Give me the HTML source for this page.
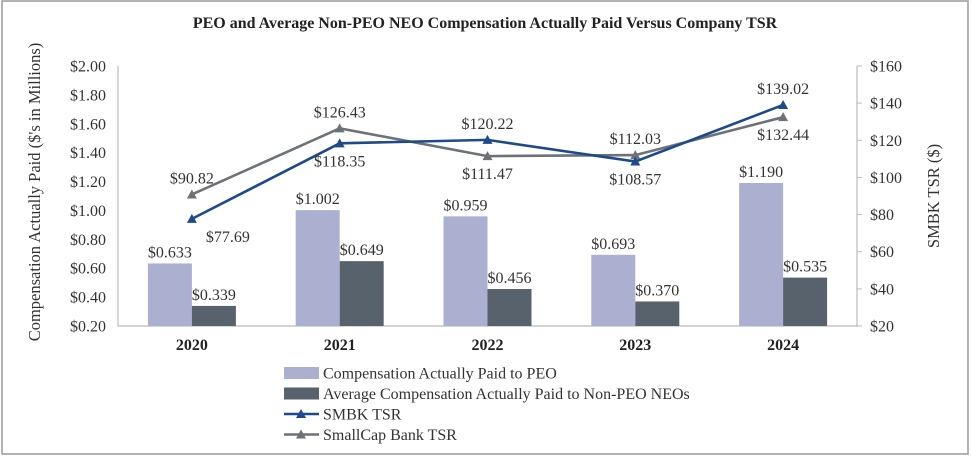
<!DOCTYPE html>
<html><head><meta charset="utf-8"><style>
body{margin:0;background:#fff;}
svg text{font-family:"Liberation Serif",serif;}
</style></head><body>
<svg id="c" width="971" height="456" viewBox="0 0 971 456">
<rect x="2" y="1" width="966" height="453" fill="#fff" stroke="#9a9a9a" stroke-width="1.5"/>
<text x="485" y="28" text-anchor="middle" font-size="16" font-weight="bold" fill="#222">PEO and Average Non-PEO NEO Compensation Actually Paid Versus Company TSR</text>
<g id="g"></g>
</svg>
<script>
const categories=["2020","2021","2022","2023","2024"];
const peoValues=[0.633,1.002,0.959,0.693,1.190];
const neoValues=[0.339,0.649,0.456,0.370,0.535];
const smbkTSR=[77.69,118.35,120.22,108.57,139.02];
const smallCapTSR=[90.82,126.43,111.47,112.03,132.44];
const leftTicks=[0.2,0.4,0.6,0.8,1.0,1.2,1.4,1.6,1.8,2.0];
const rightTicks=[20,40,60,80,100,120,140,160];
const NS="http://www.w3.org/2000/svg";
const g=document.getElementById('g');
const X0=118,X1=857,Y0=326,Y1=66;
const FS=16;
const band=(X1-X0)/categories.length;
const xc=i=>X0+band*(i+0.5);
const yL=v=>Y0-(v-0.2)/(2.0-0.2)*(Y0-Y1);
const yR=v=>Y0-(v-20)/(160-20)*(Y0-Y1);
function el(t,a,txt){const e=document.createElementNS(NS,t);for(const k in a)e.setAttribute(k,a[k]);if(txt!==undefined)e.textContent=txt;g.appendChild(e);return e;}
let e=el('line',{x1:X0,y1:Y1,x2:X0,y2:Y0,stroke:'#bbb','stroke-width':1.2});

e=el('line',{x1:X1,y1:Y1,x2:X1,y2:Y0,stroke:'#bbb','stroke-width':1.2});

e=el('line',{x1:X0,y1:Y0,x2:X1,y2:Y0,stroke:'#bbb','stroke-width':1.2});

leftTicks.forEach(v=>{const t=el('text',{x:106,y:yL(v)+5.5,'text-anchor':'end','font-size':FS,fill:'#333'},'$'+v.toFixed(2));
});
rightTicks.forEach(v=>{const l=el('line',{x1:X1,x2:X1+5,y1:yR(v),y2:yR(v),stroke:'#bbb'});

const t=el('text',{x:870,y:yR(v)+5.5,'font-size':FS,fill:'#333'},'$'+v);
});
e=el('text',{x:0,y:0,'font-size':16.5,fill:'#333','text-anchor':'middle',transform:'translate(40,192) rotate(-90)'},"Compensation Actually Paid ($'s in Millions)");

e=el('text',{x:0,y:0,'font-size':16.5,fill:'#333','text-anchor':'middle',transform:'translate(939,196) rotate(-90)'},"SMBK TSR ($)");

const bw=44;
categories.forEach((c,i)=>{
 const x=xc(i);
 const t=el('text',{x:x,y:350,'text-anchor':'middle','font-size':FS,'font-weight':'bold',fill:'#222'},c);
 
 const b1=el('rect',{x:x-bw,y:yL(peoValues[i]),width:bw,height:Y0-yL(peoValues[i]),fill:'#abafd0'});
 
 const b2=el('rect',{x:x,y:yL(neoValues[i]),width:bw,height:Y0-yL(neoValues[i]),fill:'#58626d'});
 
 const l1=el('text',{x:x-bw/2,y:yL(peoValues[i])-6,'text-anchor':'middle','font-size':FS,fill:'#333'},'$'+peoValues[i].toFixed(3));
 
 const l2=el('text',{x:x+bw/2,y:yL(neoValues[i])-6,'text-anchor':'middle','font-size':FS,fill:'#333'},'$'+neoValues[i].toFixed(3));
 
});
function series(vals,color,name,above){
 const pts=vals.map((v,i)=>xc(i)+','+yR(v)).join(' ');
 const p=el('polyline',{points:pts,fill:'none',stroke:color,'stroke-width':2.6});
 
 vals.forEach((v,i)=>{const x=xc(i),y=yR(v);
  const m=el('polygon',{points:`${x},${y-5} ${x-5},${y+4} ${x+5},${y+4}`,fill:color});
  
  const up=above[i];const dx=(i===0&&!up)?36:0;
  const t=el('text',{x:x+dx,y:up?y-11:y+23,'text-anchor':'middle','font-size':FS,fill:'#333'},'$'+v.toFixed(2));
  });
}
series(smallCapTSR,'#6d7278','smallcap-tsr',[true,true,false,true,false]);
series(smbkTSR,'#1d4a8c','smbk-tsr',[false,false,true,false,true]);
const leg=[['rect','#abafd0','Compensation Actually Paid to PEO'],['rect','#58626d','Average Compensation Actually Paid to Non-PEO NEOs'],['line','#1d4a8c','SMBK TSR'],['line','#6d7278','SmallCap Bank TSR']];
leg.forEach((d,i)=>{const y=373+i*20.5;
 if(d[0]==='rect'){const r=el('rect',{x:284,y:y-6,width:35,height:12,fill:d[1]});}
 else{const l=el('line',{x1:284,x2:319,y1:y,y2:y,stroke:d[1],'stroke-width':2.6});
  const m=el('polygon',{points:`301,${y-5} 296,${y+4} 306,${y+4}`,fill:d[1]});}
 const t=el('text',{x:323,y:y+5.5,'font-size':FS,fill:'#333'},d[2]);
 
});
</script>
</body></html>
